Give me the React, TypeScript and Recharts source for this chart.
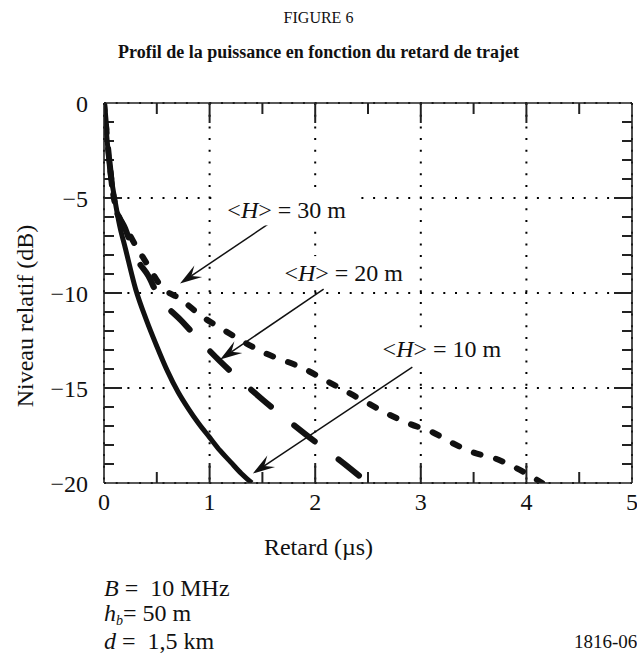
import { CartesianGrid, Line, LineChart, ReferenceDot, ReferenceLine, XAxis, YAxis } from 'recharts';

// delay (µs) vs relative level (dB)
const profile10 = [
  { t: 0, db: 0 },
  { t: 0.03, db: -2 },
  { t: 0.06, db: -3.6 },
  { t: 0.1, db: -5 },
  { t: 0.15, db: -6.5 },
  { t: 0.2, db: -7.6 },
  { t: 0.3, db: -9.8 },
  { t: 0.4, db: -11.4 },
  { t: 0.5, db: -12.8 },
  { t: 0.6, db: -14.1 },
  { t: 0.7, db: -15.2 },
  { t: 0.8, db: -16.1 },
  { t: 0.9, db: -16.9 },
  { t: 1.0, db: -17.6 },
  { t: 1.1, db: -18.3 },
  { t: 1.2, db: -18.9 },
  { t: 1.3, db: -19.5 },
  { t: 1.4, db: -20 },
];

const profile20 = [
  { t: 0, db: 0 },
  { t: 0.05, db: -3 },
  { t: 0.1, db: -5.3 },
  { t: 0.2, db: -6.6 },
  { t: 0.3, db: -8.1 },
  { t: 0.42, db: -9.1 },
  { t: 0.5, db: -10 },
  { t: 0.74, db: -11.5 },
  { t: 1.1, db: -13.6 },
  { t: 1.5, db: -15.6 },
  { t: 1.9, db: -17.4 },
  { t: 2.3, db: -19.1 },
  { t: 2.5, db: -20 },
];

const profile30 = [
  { t: 0, db: 0 },
  { t: 0.05, db: -3 },
  { t: 0.1, db: -5.2 },
  { t: 0.25, db: -7 },
  { t: 0.4, db: -8.4 },
  { t: 0.55, db: -9.7 },
  { t: 0.72, db: -10.3 },
  { t: 0.92, db: -11.2 },
  { t: 1.12, db: -11.9 },
  { t: 1.5, db: -13.1 },
  { t: 1.9, db: -14.0 },
  { t: 2.1, db: -14.6 },
  { t: 2.3, db: -15.2 },
  { t: 2.5, db: -15.8 },
  { t: 2.7, db: -16.4 },
  { t: 2.9, db: -16.9 },
  { t: 3.1, db: -17.3 },
  { t: 3.3, db: -17.9 },
  { t: 3.5, db: -18.4 },
  { t: 3.7, db: -18.7 },
  { t: 3.9, db: -19.2 },
  { t: 4.15, db: -20 },
];

const xTicks = [0, 1, 2, 3, 4, 5];
const xMinorTicks = [0.5, 1.5, 2.5, 3.5, 4.5];
const yTicks = [0, -5, -10, -15, -20];
const yMinorTicks = [-1, -2, -3, -4, -6, -7, -8, -9, -11, -12, -13, -14, -16, -17, -18, -19];
const xInnerMajor = [1, 2, 3, 4];
const yInnerMajor = [-5, -10, -15];

// annotation: label heights, label anchor and arrow (tail -> tip), in data units
const annotHeights = ['30', '20', '10'];
const annotLabelAt = [
  { t: 1.73, db: -5.6 },
  { t: 2.27, db: -8.9 },
  { t: 3.2, db: -12.95 },
];
const annotArrows = [
  [{ x: 1.575, y: -6.3 }, { x: 0.72, y: -9.5 }],
  [{ x: 2.08, y: -9.8 }, { x: 1.1, y: -13.5 }],
  [{ x: 2.92, y: -13.9 }, { x: 1.41, y: -19.5 }],
];

const W = 637;
const H = 659;
const SERIF = '"Liberation Serif", "Times New Roman", serif';
const INK = '#111';
const FRAME = '#222';
const FS = 24;

const fmtY = (v: number) => (v < 0 ? `\u2212${-v}` : `${v}`);
const noLabel = () => <g />;

// inner tick marks, laid out from the pixel mapping the library gave a segment
const innerTicks = (props: any, P: { x: number; y: number }, Q: { x: number; y: number }) => {
  const { x1, y1, x2, y2 } = props;
  const kx = (x2 - x1) / (Q.x - P.x);
  const ky = (y2 - y1) / (Q.y - P.y);
  const px = (v: number) => x1 + (v - P.x) * kx;
  const py = (v: number) => y1 + (v - P.y) * ky;
  const left = px(0);
  const right = px(5);
  const top = py(0);
  const bottom = py(-20);
  const marks: any[] = [];
  const vTick = (k: string, v: number, len: number) => {
    const x = px(v);
    marks.push(<line key={`b${k}`} x1={x} y1={bottom} x2={x} y2={bottom - len} stroke={FRAME} strokeWidth={2} />);
    marks.push(<line key={`t${k}`} x1={x} y1={top} x2={x} y2={top + len} stroke={FRAME} strokeWidth={2} />);
  };
  const hTick = (k: string, v: number, len: number) => {
    const y = py(v);
    marks.push(<line key={`l${k}`} x1={left} y1={y} x2={left + len} y2={y} stroke={FRAME} strokeWidth={2} />);
    marks.push(<line key={`r${k}`} x1={right} y1={y} x2={right - len} y2={y} stroke={FRAME} strokeWidth={2} />);
  };
  xMinorTicks.forEach((v) => vTick(`m${v}`, v, 11));
  xInnerMajor.forEach((v) => vTick(`M${v}`, v, 20));
  yMinorTicks.forEach((v) => hTick(`m${v}`, v, 10));
  yInnerMajor.forEach((v) => hTick(`M${v}`, v, 18));
  return <g>{marks}</g>;
};

const arrowShape = (props: any) => {
  const { x1, y1, x2, y2 } = props;
  const a = Math.atan2(y2 - y1, x2 - x1);
  const c = Math.cos(a);
  const s = Math.sin(a);
  const len = 22;
  const w = 7;
  const bx = x2 - len * c;
  const by = y2 - len * s;
  const nx = x2 - len * 0.62 * c;
  const ny = y2 - len * 0.62 * s;
  const pts = [
    [x2, y2],
    [bx - w * s, by + w * c],
    [nx, ny],
    [bx + w * s, by - w * c],
  ]
    .map((p) => p.join(','))
    .join(' ');
  return (
    <g>
      <line x1={x1} y1={y1} x2={nx} y2={ny} stroke={INK} strokeWidth={1.5} />
      <polygon points={pts} fill={INK} />
    </g>
  );
};

// first arrow also carries the inner tick marks
const arrowWithTicks = (seg: { x: number; y: number }[]) => (props: any) => (
  <g>
    {innerTicks(props, seg[0], seg[1])}
    {arrowShape(props)}
  </g>
);

const labelShape = (h: string) => (props: any) => {
  const { cx, cy } = props;
  return (
    <g>
      <rect x={cx - 68} y={cy - 16} width={136} height={32} fill="#fff" />
      <text x={cx} y={cy} dy="0.35em" textAnchor="middle" fontFamily={SERIF} fontSize={FS} fill={INK}>
        &lt;<tspan fontStyle="italic">H</tspan>&gt; = {h} m
      </text>
    </g>
  );
};

const frameLineStyle = { stroke: FRAME, strokeWidth: 1.6 };

export default function App() {
  return (
    <div style={{ position: 'absolute', left: 0, top: 0, width: W, height: H, fontFamily: SERIF, color: INK, background: '#fff' }}>
      <div style={{ position: 'absolute', left: 0, width: W, top: 9, textAlign: 'center', fontSize: 16 }}>FIGURE 6</div>
      <div style={{ position: 'absolute', left: 0, width: W, top: 42, textAlign: 'center', fontSize: 18, fontWeight: 'bold' }}>
        Profil de la puissance en fonction du retard de trajet
      </div>

      <LineChart
        width={W}
        height={H}
        margin={{ top: 103, right: 5, bottom: 146, left: 0 }}
        style={{ position: 'absolute', left: 0, top: 0 }}
      >
        <CartesianGrid stroke="#000" strokeWidth={2} strokeDasharray="2 9.7" />
        <XAxis
          type="number"
          dataKey="t"
          domain={[0, 5]}
          ticks={xTicks}
          interval={0}
          height={30}
          axisLine={frameLineStyle}
          tickLine={false}
          tickSize={0}
          tickMargin={10}
          tick={{ fontFamily: SERIF, fontSize: FS, fill: INK }}
          allowDataOverflow
        />
        <YAxis
          type="number"
          domain={[-20, 0]}
          ticks={yTicks}
          interval={0}
          width={104}
          axisLine={frameLineStyle}
          tickLine={false}
          tickSize={0}
          tickMargin={16}
          tickFormatter={fmtY}
          tick={{ fontFamily: SERIF, fontSize: FS, fill: INK }}
          allowDataOverflow
        />
        {/* top and right frame edges */}
        <XAxis
          xAxisId="top"
          orientation="top"
          mirror
          type="number"
          domain={[0, 5]}
          ticks={xTicks}
          height={1}
          tick={noLabel}
          tickLine={false}
          axisLine={frameLineStyle}
          allowDataOverflow
        />
        <YAxis
          yAxisId="right"
          orientation="right"
          mirror
          type="number"
          domain={[-20, 0]}
          ticks={yTicks}
          width={1}
          tick={noLabel}
          tickLine={false}
          axisLine={frameLineStyle}
          allowDataOverflow
        />

        {annotArrows.map((p, i) => (
          <ReferenceLine
            key={`arr${i}`}
            segment={p}
            shape={i === 0 ? arrowWithTicks(p) : arrowShape}
            ifOverflow="visible"
          />
        ))}

        <Line
          data={profile30}
          dataKey="db"
          type="monotone"
          stroke={INK}
          strokeWidth={6}
          strokeDasharray="7 16"
          strokeLinecap="round"
          dot={false}
          isAnimationActive={false}
        />
        <Line
          data={profile20}
          dataKey="db"
          type="monotone"
          stroke={INK}
          strokeWidth={6}
          strokeDasharray="26 30"
          strokeLinecap="round"
          dot={false}
          isAnimationActive={false}
        />
        <Line
          data={profile10}
          dataKey="db"
          type="monotone"
          stroke={INK}
          strokeWidth={5}
          dot={false}
          isAnimationActive={false}
        />

        {annotLabelAt.map((p, i) => (
          <ReferenceDot key={`lab${i}`} x={p.t} y={p.db} r={0} shape={labelShape(annotHeights[i])} ifOverflow="visible" />
        ))}
      </LineChart>

      <div style={{ position: 'absolute', left: 0, width: W, top: 534, textAlign: 'center', fontSize: FS }}>Retard (µs)</div>
      <div
        style={{
          position: 'absolute',
          left: 25,
          top: 316,
          transform: 'translate(-50%, -50%) rotate(-90deg)',
          whiteSpace: 'nowrap',
          fontSize: FS,
        }}
      >
        Niveau relatif (dB)
      </div>

      <div style={{ position: 'absolute', left: 104, top: 576, fontSize: FS, lineHeight: '25px', whiteSpace: 'pre' }}>
        <div>
          <i>B</i> =  10 MHz
        </div>
        <div>
          <i>h</i>
          <span style={{ fontSize: 14, fontStyle: 'italic', position: 'relative', top: 4 }}>b</span>= 50 m
        </div>
        <div>
          <i>d</i> =  1,5 km
        </div>
      </div>
      <div style={{ position: 'absolute', left: 574, top: 631, fontSize: 19, whiteSpace: 'nowrap' }}>1816-06</div>
    </div>
  );
}
